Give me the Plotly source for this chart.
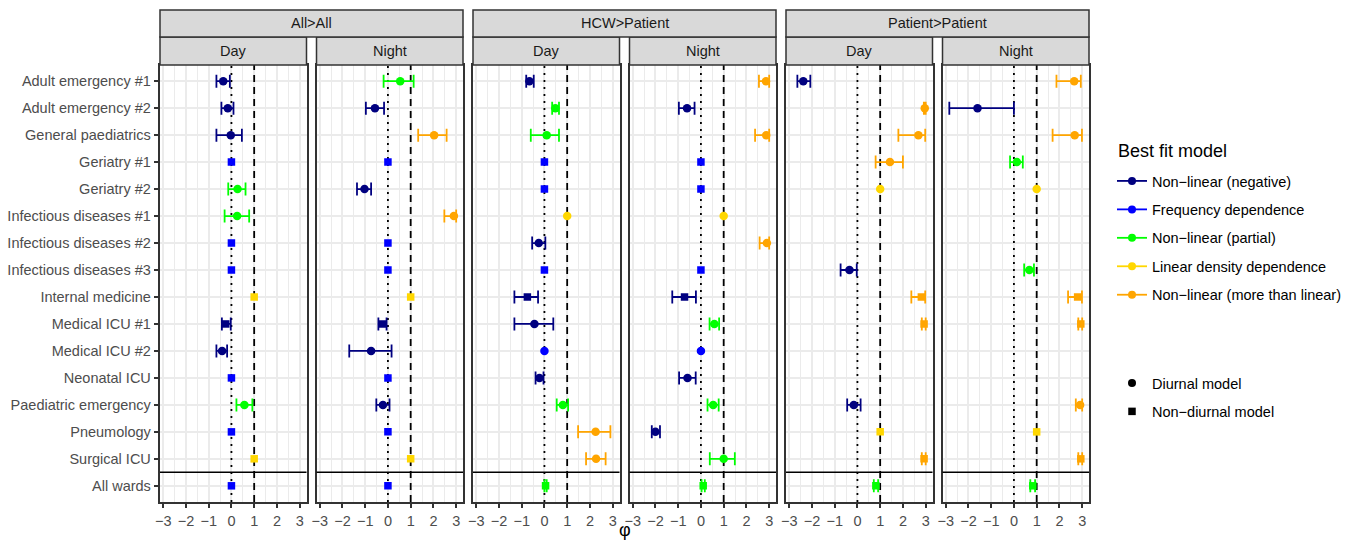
import plotly.graph_objects as go

# ---------------- data ----------------
rows = ["Adult emergency #1", "Adult emergency #2", "General paediatrics", "Geriatry #1",
        "Geriatry #2", "Infectious diseases #1", "Infectious diseases #2", "Infectious diseases #3",
        "Internal medicine", "Medical ICU #1", "Medical ICU #2", "Neonatal ICU",
        "Paediatric emergency", "Pneumology", "Surgical ICU", "All wards"]
groups = ["All>All", "HCW>Patient", "Patient>Patient"]
periods = ["Day", "Night"]
x_ticks = [-3, -2, -1, 0, 1, 2, 3]
ref_lines = [0, 1]          # frequency dependence (dotted), linear density dependence (dashed)

model_keys = ["neg", "freq", "part", "lin", "more"]
model_labels = ["Non\u2212linear (negative)", "Frequency dependence", "Non\u2212linear (partial)",
                "Linear density dependence", "Non\u2212linear (more than linear)"]
model_colors = ["#000080", "#0000FF", "#00FF00", "#FFD700", "#FFA500"]
shape_labels = ["Diurnal model", "Non\u2212diurnal model"]
legend_title = "Best fit model"

# All>All Day
p1_model = ["neg", "neg", "neg", "freq", "part", "part", "freq", "freq", "lin", "neg", "neg", "freq", "part", "freq", "lin", "freq"]
p1_shape = ["d", "d", "d", "n", "d", "d", "n", "n", "n", "n", "d", "n", "d", "n", "n", "n"]
p1_est = [-0.36, -0.16, -0.03, 0, 0.27, 0.25, 0, 0, 1, -0.25, -0.41, 0, 0.57, 0, 1, 0]
p1_lo = [-0.66, -0.44, -0.66, None, -0.14, -0.30, None, None, None, -0.42, -0.66, None, 0.22, None, None, None]
p1_hi = [-0.07, 0.09, 0.46, None, 0.62, 0.78, None, None, None, -0.03, -0.19, None, 0.92, None, None, None]

# All>All Night
p2_model = ["part", "neg", "more", "freq", "neg", "more", "freq", "freq", "lin", "neg", "neg", "freq", "neg", "freq", "lin", "freq"]
p2_shape = ["d", "d", "d", "n", "d", "d", "n", "n", "n", "n", "d", "n", "d", "n", "n", "n"]
p2_est = [0.54, -0.57, 2.03, 0, -1.03, 2.9, 0, 0, 1, -0.25, -0.74, 0, -0.22, 0, 1, 0]
p2_lo = [-0.19, -0.97, 1.33, None, -1.36, 2.48, None, None, None, -0.42, -1.70, None, -0.51, None, None, None]
p2_hi = [1.13, -0.17, 2.58, None, -0.74, 3.0, None, None, None, -0.06, 0.16, None, 0.07, None, None, None]

# HCW>Patient Day
p3_model = ["neg", "part", "part", "freq", "freq", "lin", "neg", "freq", "neg", "neg", "freq", "neg", "part", "more", "more", "part"]
p3_shape = ["d", "d", "d", "n", "n", "d", "d", "n", "n", "d", "d", "d", "d", "d", "d", "n"]
p3_est = [-0.66, 0.48, 0.10, 0, 0, 1, -0.25, 0, -0.75, -0.44, 0, -0.22, 0.81, 2.25, 2.27, 0.05]
p3_lo = [-0.80, 0.34, -0.60, None, None, None, -0.54, None, -1.32, -1.32, None, -0.39, 0.54, 1.48, 1.83, 0.0]
p3_hi = [-0.47, 0.64, 0.64, None, None, None, 0.04, None, -0.28, 0.39, None, -0.04, 1.04, 2.9, 2.69, 0.1]

# HCW>Patient Night
p4_model = ["more", "neg", "more", "freq", "freq", "lin", "more", "freq", "neg", "part", "freq", "neg", "part", "neg", "part", "part"]
p4_shape = ["d", "d", "d", "n", "n", "d", "d", "n", "n", "d", "d", "d", "d", "d", "d", "n"]
p4_est = [2.86, -0.61, 2.87, 0, 0, 1, 2.9, 0, -0.72, 0.59, 0, -0.59, 0.54, -2.0, 1.0, 0.1]
p4_lo = [2.55, -0.97, 2.38, None, None, None, 2.58, None, -1.26, 0.38, None, -0.96, 0.29, -2.16, 0.39, 0.03]
p4_hi = [3.0, -0.28, 3.0, None, None, None, 3.0, None, -0.22, 0.80, None, -0.23, 0.78, -1.8, 1.49, 0.17]

# Patient>Patient Day
p5_model = ["neg", "more", "more", "more", "lin", None, None, "neg", "more", "more", None, None, "neg", "lin", "more", "part"]
p5_shape = ["d", "d", "d", "d", "d", None, None, "d", "n", "n", None, None, "d", "n", "n", "n"]
p5_est = [-2.38, 2.96, 2.68, 1.43, 1, None, None, -0.35, 2.81, 2.93, None, None, -0.16, 1, 2.93, 0.81]
p5_lo = [-2.64, 2.92, 1.80, 0.80, None, None, None, -0.74, 2.37, 2.83, None, None, -0.45, None, 2.83, 0.72]
p5_hi = [-2.07, 3.0, 2.98, 2.0, None, None, None, -0.03, 2.98, 3.0, None, None, 0.14, None, 3.0, 0.91]

# Patient>Patient Night
p6_model = ["more", "neg", "more", "part", "lin", None, None, "part", "more", "more", None, None, "more", "lin", "more", "part"]
p6_shape = ["d", "d", "d", "d", "d", None, None, "d", "n", "n", None, None, "d", "n", "n", "n"]
p6_est = [2.65, -1.6, 2.67, 0.13, 1, None, None, 0.68, 2.8, 2.94, None, None, 2.91, 1, 2.94, 0.83]
p6_lo = [1.87, -2.84, 1.70, -0.17, None, None, None, 0.45, 2.38, 2.83, None, None, 2.72, None, 2.83, 0.72]
p6_hi = [2.94, 0.0, 2.99, 0.39, None, None, None, 0.88, 2.99, 3.0, None, None, 3.0, None, 3.0, 0.93]

panels = [
    (p1_model, p1_shape, p1_est, p1_lo, p1_hi),
    (p2_model, p2_shape, p2_est, p2_lo, p2_hi),
    (p3_model, p3_shape, p3_est, p3_lo, p3_hi),
    (p4_model, p4_shape, p4_est, p4_lo, p4_hi),
    (p5_model, p5_shape, p5_est, p5_lo, p5_hi),
    (p6_model, p6_shape, p6_est, p6_lo, p6_hi),
]

# ---------------- layout geometry (pixels) ----------------
W, H = 1359, 541
def fx(px):
    return px / W
def fy(py):
    return 1 - py / H

PANEL_L, PANEL_W, GAP = 160, 146.5, 10
PANEL_T, PANEL_B = 65, 502
STRIP1_T, STRIP1_B = 10, 37
STRIP2_T, STRIP2_B = 37, 65
Y_RANGE = [len(rows) + 0.6, 0.4]
X_RANGE = [-3.14, 3.3]

FONT = "Liberation Sans, Arial, sans-serif"
GRID = "#EBEBEB"
BORDER = "#333333"
sym = {"d": "circle", "n": "square"}
msize = {"d": 8.5, "n": 7.5}

fig = go.Figure()

for pi, (mod, shp, est, lo, hi) in enumerate(panels):
    ax = "" if pi == 0 else str(pi + 1)
    # reference lines as traces (drawn above grid, below points)
    for rv, dash in zip(ref_lines, ["2px,5px", "7px,5px"]):
        fig.add_trace(go.Scatter(x=[rv, rv], y=Y_RANGE, mode="lines", xaxis="x" + ax, yaxis="y" + ax,
                                 line=dict(color="black", width=1.8, dash=dash),
                                 showlegend=False, hoverinfo="skip", cliponaxis=True))
    for mk, mc in zip(model_keys, model_colors):
        for with_ci in (True, False):
            xs, ys, syms, sizes, ep, em = [], [], [], [], [], []
            for r in range(len(rows)):
                if mod[r] != mk:
                    continue
                has_ci = lo[r] is not None
                if has_ci != with_ci:
                    continue
                xs.append(est[r])
                ys.append(r + 1)
                syms.append(sym[shp[r]])
                sizes.append(msize[shp[r]])
                if has_ci:
                    ep.append(hi[r] - est[r])
                    em.append(est[r] - lo[r])
            if not xs:
                continue
            tr = dict(x=xs, y=ys, mode="markers", xaxis="x" + ax, yaxis="y" + ax,
                      marker=dict(color=mc, symbol=syms, size=sizes, opacity=1, line=dict(width=0)),
                      showlegend=False, hoverinfo="x+y")
            if with_ci:
                tr["error_x"] = dict(type="data", symmetric=False, array=ep, arrayminus=em,
                                     color=mc, thickness=1.8, width=6.5)
            fig.add_trace(go.Scatter(**tr))

# legend dummies
for i, (lab, mc) in enumerate(zip(model_labels, model_colors)):
    fig.add_trace(go.Scatter(x=[None], y=[None], mode="lines+markers", name=lab,
                             line=dict(color=mc, width=1.8), marker=dict(color=mc, size=8),
                             legend="legend", legendgroup="m%d" % i, showlegend=True))
for i, (lab, s) in enumerate(zip(shape_labels, ["circle", "square"])):
    fig.add_trace(go.Scatter(x=[None], y=[None], mode="markers", name=lab,
                             marker=dict(color="black", size=8 if s == "circle" else 7.5, symbol=s),
                             legend="legend2", legendgroup="s%d" % i, showlegend=True))

layout = dict(
    width=W, height=H, margin=dict(l=0, r=0, t=0, b=0, pad=0, autoexpand=False),
    paper_bgcolor="white", plot_bgcolor="white",
    font=dict(family=FONT, size=14.5, color="black"),
    showlegend=True,
    legend=dict(x=fx(1112), y=fy(165), xanchor="left", yanchor="top",
                tracegroupgap=6.6, font=dict(size=14.5), bgcolor="rgba(0,0,0,0)"),
    legend2=dict(x=fx(1112), y=fy(367), xanchor="left", yanchor="top",
                 tracegroupgap=6.6, font=dict(size=14.5), bgcolor="rgba(0,0,0,0)"),
)

shapes = []
annotations = []
for pi in range(6):
    ax = "" if pi == 0 else str(pi + 1)
    left = PANEL_L + pi * (PANEL_W + GAP)
    right = left + PANEL_W
    layout["xaxis" + ax] = dict(
        domain=[fx(left), fx(right)], range=X_RANGE, anchor="y" + ax, automargin=False,
        tickmode="array", tickvals=x_ticks, ticktext=[("\u2212%d" % -t) if t < 0 else str(t) for t in x_ticks],
        ticks="outside", ticklen=4.5, tickwidth=1.5, tickcolor=BORDER,
        tickfont=dict(size=14.5, color="#4D4D4D"),
        showgrid=True, gridcolor=GRID, gridwidth=1.6,
        minor=dict(dtick=0.5, tick0=-3, showgrid=True, gridcolor=GRID, gridwidth=0.9, ticks=""),
        showline=True, linecolor=BORDER, linewidth=1.5, mirror=True,
        zeroline=False, fixedrange=True,
    )
    yd = dict(
        domain=[fy(PANEL_B), fy(PANEL_T)], range=Y_RANGE, anchor="x" + ax, automargin=False,
        tickmode="array", tickvals=list(range(1, len(rows) + 1)),
        showgrid=True, gridcolor=GRID, gridwidth=1.6,
        showline=True, linecolor=BORDER, linewidth=1.5, mirror=True,
        zeroline=False, fixedrange=True,
    )
    if pi == 0:
        yd.update(ticktext=rows, ticks="outside", ticklen=4.5, tickwidth=1.5, tickcolor=BORDER,
                  tickfont=dict(size=14.5, color="#4D4D4D"), showticklabels=True)
    else:
        yd.update(showticklabels=False, ticks="")
    layout["yaxis" + ax] = yd

    # separator above "All wards"
    shapes.append(dict(type="line", xref="x" + ax + " domain", yref="y" + ax, x0=0, x1=1,
                       y0=len(rows) - 0.5, y1=len(rows) - 0.5,
                       line=dict(color="black", width=1.5)))

    # period strip
    shapes.append(dict(type="rect", xref="paper", yref="paper", x0=fx(left), x1=fx(right),
                       y0=fy(STRIP2_B), y1=fy(STRIP2_T), fillcolor="#D9D9D9",
                       line=dict(color=BORDER, width=1.5), layer="above"))
    annotations.append(dict(text=periods[pi % 2], xref="paper", yref="paper",
                            x=fx((left + right) / 2), y=fy((STRIP2_T + STRIP2_B) / 2),
                            showarrow=False, xanchor="center", yanchor="middle",
                            font=dict(size=14.5, color="#1A1A1A")))

for gi, g in enumerate(groups):
    left = PANEL_L + 2 * gi * (PANEL_W + GAP)
    right = left + 2 * PANEL_W + GAP
    shapes.append(dict(type="rect", xref="paper", yref="paper", x0=fx(left), x1=fx(right),
                       y0=fy(STRIP1_B), y1=fy(STRIP1_T), fillcolor="#D9D9D9",
                       line=dict(color=BORDER, width=1.5), layer="above"))
    annotations.append(dict(text=g, xref="paper", yref="paper",
                            x=fx((left + right) / 2), y=fy((STRIP1_T + STRIP1_B) / 2),
                            showarrow=False, xanchor="center", yanchor="middle",
                            font=dict(size=14.5, color="#1A1A1A")))

# legend title
annotations.append(dict(text=legend_title, xref="paper", yref="paper", x=fx(1116), y=fy(151),
                        showarrow=False, xanchor="left", yanchor="middle",
                        font=dict(size=18, color="black")))

annotations.append(dict(text="\u03c6", xref="paper", yref="paper",
                        x=fx(PANEL_L + (6 * PANEL_W + 5 * GAP) / 2), y=fy(530),
                        showarrow=False, xanchor="center", yanchor="middle",
                        font=dict(size=18, color="black")))

layout["shapes"] = shapes
layout["annotations"] = annotations
fig.update_layout(**layout)
fig.write_html("out.html", config={"displayModeBar": False},
               post_script="document.body.style.margin='0px';document.body.style.overflow='hidden';")
